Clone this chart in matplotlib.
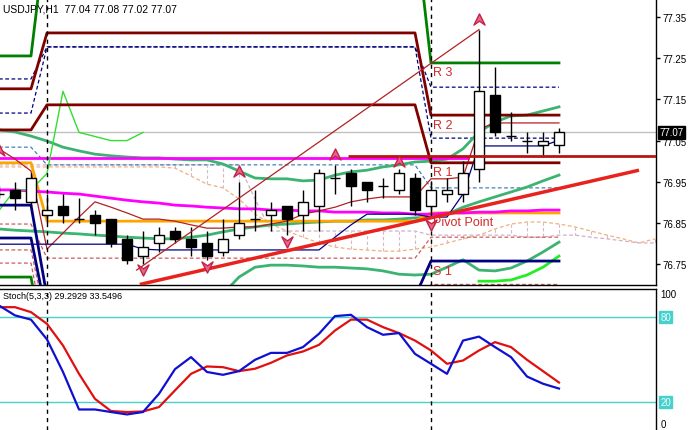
import matplotlib
matplotlib.use('Agg')
import matplotlib.pyplot as plt
from matplotlib.path import Path

plt.rcParams['font.family'] = ['Liberation Sans', 'DejaVu Sans']

# ---------------- data ----------------
idx = list(range(-1, 35))  # hourly bars, -1 partly off the left edge
opens = [76.92, 76.93, 76.90, 76.87, 76.89, 76.86, 76.87, 76.86, 76.81, 76.77, 76.80, 76.83,
         76.81, 76.80, 76.78, 76.82, 76.86, 76.87, 76.89, 76.87, 76.89, 76.96, 76.97, 76.95,
         76.94, 76.93, 76.96, 76.89, 76.92, 76.92, 76.98, 77.16, 77.06, 77.05, 77.04, 77.04]
highs = [76.94, 76.95, 76.97, 76.92, 76.92, 76.91, 76.88, 76.86, 76.82, 76.83, 76.84, 76.84,
         76.84, 76.83, 76.86, 76.95, 76.93, 76.90, 76.89, 76.93, 76.98, 76.99, 76.98, 76.95,
         76.96, 76.98, 76.97, 76.95, 76.96, 77.00, 77.32, 77.23, 77.12, 77.07, 77.07, 77.08]
lows = [76.91, 76.88, 76.89, 76.85, 76.85, 76.85, 76.82, 76.79, 76.75, 76.75, 76.78, 76.80,
        76.77, 76.76, 76.77, 76.81, 76.83, 76.83, 76.82, 76.83, 76.83, 76.92, 76.89, 76.90,
        76.91, 76.92, 76.87, 76.87, 76.90, 76.90, 76.95, 77.06, 77.05, 77.02, 77.01, 77.02]
closes = [76.92, 76.91, 76.96, 76.88, 76.87, 76.86, 76.85, 76.80, 76.76, 76.79, 76.82, 76.81,
          76.79, 76.77, 76.81, 76.85, 76.86, 76.88, 76.86, 76.90, 76.97, 76.96, 76.94, 76.93,
          76.94, 76.97, 76.88, 76.93, 76.93, 76.97, 77.17, 77.07, 77.06, 77.05, 77.05, 77.07]

# daily pivot levels: [previous-previous day, previous day, current day]
day_of_bar = [0 if i <= 1 else (1 if i <= 25 else 2) for i in idx]
piv_R3 = [77.256, 77.580, 77.239]
piv_R2 = [77.176, 77.312, 77.112]
piv_R1 = [77.076, 77.137, 76.996]
piv_P = [76.996, 76.854, 76.874]
piv_S1 = [76.893, 76.670, 76.757]
piv_S2 = [76.813, 76.620, 76.640]
piv_S3 = [76.718, 76.500, 76.550]
piv_M1 = [77.200, 77.278, 77.180]
piv_M2 = [77.117, 77.278, 77.056]
piv_M3 = [77.034, 76.991, 76.935]
piv_M4 = [76.847, 76.764, 76.815]
piv_M5 = [76.784, 76.600, 76.700]
piv_M6 = [76.752, 76.550, 76.600]

# indicator lines (one value per bar)
band_up = [77.076, 77.071, 77.061, 77.049, 77.034, 77.025, 77.017, 77.013, 77.010, 77.008,
           77.008, 77.005, 77.003, 77.003, 76.993, 76.976, 76.959, 76.957, 76.957, 76.952,
           76.954, 76.966, 76.974, 76.978, 76.986, 76.991, 76.998, 77.000, 77.005, 77.030,
           77.071, 77.095, 77.110, 77.112, 77.122, 77.132]
band_mid = [76.835, 76.832, 76.830, 76.828, 76.825, 76.823, 76.820, 76.818, 76.815, 76.813,
            76.811, 76.811, 76.815, 76.820, 76.828, 76.835, 76.840, 76.845, 76.847, 76.850,
            76.852, 76.854, 76.854, 76.857, 76.857, 76.859, 76.862, 76.864, 76.871, 76.888,
            76.901, 76.913, 76.925, 76.937, 76.952, 76.966]
nan = float('nan')
band_low = [nan] * 14 + [76.677, 76.718, 76.742, 76.747, 76.747, 76.745, 76.742, 76.742,
                         76.740, 76.738, 76.733, 76.725, 76.723, 76.725, 76.742, 76.760,
                         76.735, 76.733, 76.740, 76.757, 76.779, 76.803]
ma_magenta = [76.930, 76.930, 76.927, 76.925, 76.922, 76.920, 76.915, 76.910, 76.905, 76.901,
              76.898, 76.893, 76.891, 76.888, 76.886, 76.884, 76.884, 76.881, 76.881, 76.879,
              76.879, 76.876, 76.876, 76.876, 76.874, 76.874, 76.871, 76.871, 76.874, 76.874,
              76.876, 76.876, 76.879, 76.879, 76.881, 76.881]
tenkan = [77.030, 77.005, 76.976, 76.786, 76.825, 76.864, 76.901, 76.888, 76.874, 76.859,
          76.859, 76.854, 76.845, 76.837, 76.837, 76.840, 76.840, 76.847, 76.854, 76.871,
          76.879, 76.888, 76.901, 76.908, 76.913, 76.913, 76.913, 76.957, 76.957, 76.961,
          77.078, 77.093, 77.093, 77.093, 77.093, 77.093]
kijun = [76.798] * 9 + [76.786] + [76.784] * 11 + [76.815, 76.845, 76.871, 76.871, 76.871,
                                                    76.871, 76.864, 76.864, 76.920, 77.037,
                                                    77.037, 77.037, 77.037, 77.037, 77.051]
green_fast_idx = [29, 30, 31, 32, 33, 34]
green_fast = [76.708, 76.708, 76.711, 76.723, 76.742, 76.769]

# ichimoku cloud, shifted forward to bar 40
cloud_idx = list(range(-1, 41))
span_a = [76.986] * 11 + [76.983, 76.964, 76.944, 76.935, 76.908, 76.871, 76.847, 76.830,
                          76.815, 76.801, 76.791, 76.786, 76.784, 76.781, 76.781, 76.786,
                          76.791, 76.801, 76.811, 76.820, 76.835, 76.847, 76.852, 76.852,
                          76.847, 76.840, 76.830, 76.820, 76.811, 76.801, 76.811]
span_b = [76.991] * 16 + [76.908] + [76.830] * 10 + [76.820] * 6 + [76.815, 76.815, 76.820,
                                                                     76.820, 76.815, 76.811,
                                                                     76.806, 76.801, 76.801]

level_mag = 77.008
level_red = 77.012
bid = 77.07
trend_x = [7.8, 39.0]
trend_y = [76.700, 76.978]
diag_x = [7.6, 29.0]
diag_y = [76.735, 77.320]
up_idx = [-1, 14, 20, 24, 29]
up_px = [77.027, 76.976, 77.017, 77.000, 77.346]
dn_idx = [8, 12, 17, 26]
dn_px = [76.735, 76.742, 76.803, 76.845]
separators = [2, 26]
price_ticks = [76.75, 76.85, 76.95, 77.05, 77.15, 77.25, 77.35]

stoch_k = [88, 81, 78, 64, 41, 14.5, 14.5, 12.7, 11, 12.7, 25.6, 43, 51.5, 41, 39, 41.6,
           49.6, 54.5, 54.5, 58.6, 68, 80.5, 81.4, 72.7, 67.3, 68.5, 53.8, 46.8, 39.7, 63.2,
           66, 58.6, 51.5, 37.8, 32.7, 29.29]
stoch_d = [86.8, 86.8, 83.3, 75, 59.7, 39.7, 22, 13.4, 12.7, 13.1, 16.2, 28, 39.7, 44.9,
           44.4, 41.6, 43.3, 47.5, 52.7, 55.5, 60.2, 70.3, 78, 78, 72.7, 68.5, 63.2, 56.2,
           46.8, 49.1, 56.2, 62.1, 58.6, 49.6, 41.6, 33.55]

# ---------------- figure ----------------
W, H = 696, 431
fig = plt.figure(figsize=(W / 100, H / 100), dpi=100)
ax = fig.add_axes([0, (H - 286) / H, 656 / W, 286 / H])
ax2 = fig.add_axes([0, 0, 656 / W, (H - 289.5) / H])
xl = (-15 / 16, (656 - 15) / 16)
for a in (ax, ax2):
    a.set_xlim(*xl)
    a.set_xticks([])
    a.set_facecolor('white')
    for s in ('left', 'top', 'bottom', 'right'):
        a.spines[s].set_visible(False)
    a.spines['right'].set_visible(True)
    a.spines['right'].set_color('black')
    a.spines['right'].set_linewidth(1)
ax.spines['bottom'].set_visible(True)
ax.spines['bottom'].set_linewidth(1)
ax2.spines['top'].set_visible(True)
ax2.spines['top'].set_linewidth(1)
ax.set_ylim(76.6987, 77.3945)
ax2.set_ylim(0, 100)


def ser(levels):
    return [levels[d] for d in day_of_bar]


dash = (0, (3, 2))
# cloud
ax.plot(cloud_idx, span_a, color='#F0B080', lw=0.9, ls=dash, zorder=1)
ax.plot(cloud_idx, span_b, color='#D0B0C8', lw=0.9, ls=dash, zorder=1)
for i, a_, b_ in zip(cloud_idx, span_a, span_b):
    if abs(a_ - b_) > 0.006:
        ax.plot([i, i], [a_, b_], color='#D8B8C8', lw=0.8, ls=dash, zorder=1)

ax.axhline(bid, color='#C0C0C0', lw=1, zorder=1)

# pivot dashed mid levels
for lv, col in ((piv_M1, '#000080'), (piv_M2, '#000080'), (piv_M3, '#4682B4'),
                (piv_M4, '#CD5C5C'), (piv_M5, '#CD5C5C'), (piv_M6, '#CD5C5C')):
    ax.plot(idx, ser(lv), color=col, lw=0.9, ls=dash, zorder=2)

# bands / MAs
ax.plot(idx, band_up, color='#3CB371', lw=2, zorder=2)
ax.plot(idx, band_mid, color='#3CB371', lw=2, zorder=2)
ax.plot(idx, band_low, color='#3CB371', lw=2, zorder=2)
ax.hlines(level_mag, -1, 28.4, color='#FF00FF', lw=2, zorder=2)
ax.plot(idx, ser(piv_P), color='#FFA500', lw=2, zorder=2)
ax.plot(idx, ma_magenta, color='#FF00FF', lw=2, zorder=2)
ax.plot(idx, tenkan, color='#B22222', lw=0.9, zorder=2)
ax.plot(idx, kijun, color='#000080', lw=0.9, zorder=2)
chikou_idx = idx[:10]
ax.plot(chikou_idx, closes[-10:], color='#33DD33', lw=1, zorder=2)
ax.plot(green_fast_idx, green_fast, color='#22EE22', lw=2, zorder=2)

# pivot main levels
ax.plot(idx, ser(piv_R3), color='#008000', lw=2, zorder=3)
ax.plot(idx, ser(piv_R2), color='#800000', lw=2, zorder=3)
ax.plot(idx, ser(piv_R1), color='#800000', lw=2, zorder=3)
ax.plot(idx, ser(piv_S1), color='#000080', lw=2, zorder=3)
ax.plot(idx, ser(piv_S2), color='#000080', lw=2, zorder=3)
ax.plot(idx, ser(piv_S3), color='#008000', lw=2, zorder=3)

for sx in separators:
    ax.axvline(sx, color='black', lw=1, ls=(0, (3, 3)), zorder=3)
    ax2.axvline(sx, color='black', lw=1, ls=(0, (3, 3)), zorder=3)

# candles
for i, o, h, l, c in zip(idx, opens, highs, lows, closes):
    ax.vlines(i, l, h, color='black', lw=1, zorder=5)
    if abs(c - o) < 1e-9:
        ax.hlines(o, i - 0.32, i + 0.32, color='black', lw=1, zorder=6)
    else:
        ax.bar(i, abs(c - o), bottom=min(o, c), width=0.62,
               facecolor='white' if c > o else 'black', edgecolor='black', lw=1, zorder=6)

# objects on top
ax.plot(trend_x, trend_y, color='#E8231E', lw=2.5, zorder=7, solid_capstyle='butt')
ax.plot(diag_x, diag_y, color='#B22222', lw=0.9, zorder=7)
ax.hlines(level_red, 20.8, xl[1], color='#B81414', lw=2, zorder=7)

up_mark = Path([(-1, -1), (0, 1), (1, -1), (0, -0.3), (-1, -1)],
               [Path.MOVETO, Path.LINETO, Path.LINETO, Path.LINETO, Path.CLOSEPOLY])
dn_mark = Path([(-1, 1), (0, -1), (1, 1), (0, 0.3), (-1, 1)],
               [Path.MOVETO, Path.LINETO, Path.LINETO, Path.LINETO, Path.CLOSEPOLY])
ax.plot(up_idx, up_px, ls='none', marker=up_mark, ms=8, mfc='#E06A8A', mec='#C8204A',
        mew=1, zorder=8)
ax.plot(dn_idx, dn_px, ls='none', marker=dn_mark, ms=8, mfc='#E06A8A', mec='#C8204A',
        mew=1, zorder=8)

# pivot labels
for name, lv in (('R 3', piv_R3), ('R 2', piv_R2), ('R 1', piv_R1),
                 ('Pivot Point', piv_P), ('S 1', piv_S1)):
    ax.annotate(name, xy=(26, lv[2]), xytext=(1.5, -2.5), textcoords='offset points',
                ha='left', va='top', color='#D42A2A', fontsize=9, zorder=9)

# price axis
ax.yaxis.tick_right()
ax.set_yticks(price_ticks)
ax.set_yticklabels([f'{t:.2f}' for t in price_ticks])
ax.tick_params(axis='y', direction='out', length=3, width=1, pad=2, labelsize=7, colors='black')
ax.annotate(f'{bid:.2f}', xy=(1, bid), xycoords=('axes fraction', 'data'), xytext=(2.5, 0),
            textcoords='offset points', ha='left', va='center', color='white', fontsize=7,
            bbox=dict(boxstyle='square,pad=0.15', fc='black', ec='black'), zorder=10,
            annotation_clip=False)

fig.text(3 / W, 1 - 10 / H, 'USDJPY,H1  77.04 77.08 77.02 77.07', fontsize=7.5,
         ha='left', va='center', color='black')

# stochastic
ax2.axhline(80, color='#48D1CC', lw=1, zorder=1)
ax2.axhline(20, color='#48D1CC', lw=1, zorder=1)
ax2.plot(idx, stoch_d, color='#E01010', lw=1.6, zorder=4)
ax2.plot(idx, stoch_k, color='#1010D0', lw=1.6, zorder=5)
ax2.set_yticks([])
ax2.text(3 / 656, 95, 'Stoch(5,3,3) 29.2929 33.5496', transform=ax2.get_yaxis_transform(),
         fontsize=6.5, ha='left', va='center')
for v, txt, boxed in ((96, '100', False), (80, '80', True), (20, '20', True), (4, '0', False)):
    kw = dict(bbox=dict(boxstyle='square,pad=0.1', fc='#48D1CC', ec='#48D1CC')) if boxed else {}
    ax2.annotate(txt, xy=(1, v), xycoords=('axes fraction', 'data'), xytext=(3, 0),
                 textcoords='offset points', ha='left', va='center', fontsize=7,
                 color='#E8FFFF' if boxed else 'black', annotation_clip=False, **kw)

fig.savefig('out.png', dpi=100, facecolor='white')
